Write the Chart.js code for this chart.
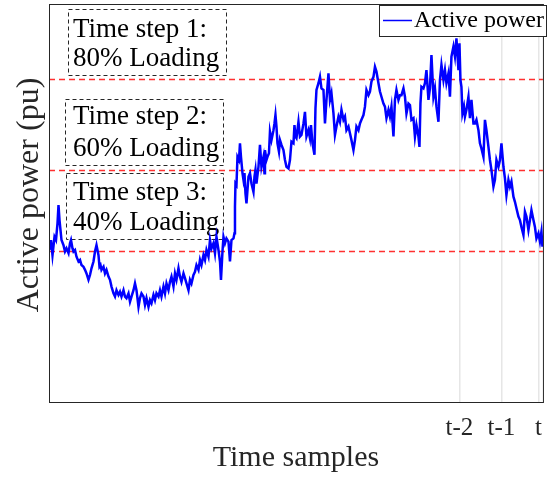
<!DOCTYPE html>
<html>
<head>
<meta charset="utf-8">
<script src="https://cdn.jsdelivr.net/npm/chart.js@4/dist/chart.umd.min.js"></script>
<style>
  html, body { margin: 0; padding: 0; background: #fff; }
  #wrap { width: 553px; height: 479px; }
</style>
</head>
<body>
<div id="wrap"><canvas id="chart" width="553" height="479"></canvas></div>
<script>
// Sample index of each measurement
const samples = [
  2,4,7,11,14,17,19,21,23,25,29,32,35,39,42,44,47,49,52,55,59,62,65,69,72,75,79,82,85,89,92,95,99,101,103,105,109,112,115,119,122,125,129,132,135,139,142,145,149,152,155,159,162,165,169,172,175,179,182,
  185,189,192,195,199,202,205,209,212,215,219,222,225,229,232,235,239,242,245,249,252,255,259,262,265,269,272,275,279,282,285,289,292,295,299,302,305,309,312,315,319,322,325,329,332,335,339,342,344,347,349,352,355,359,362,365,369,
  371,372,373,375,377,380,382,384,387,389,391,393,395,399,402,405,409,411,413,415,419,422,425,429,431,432,435,437,440,442,445,449,451,453,455,457,460,462,465,469,472,475,479,482,485,489,491,493,495,499,502,505,509,512,515,519,522,524,527,531,533,535,539,542,
  545,549,552,555,559,562,565,569,572,575,579,582,585,589,592,595,599,602,605,609,612,615,619,622,625,629,632,635,639,642,645,649,652,655,659,662,665,669,672,675,679,682,685,689,692,695,699,702,
  705,709,712,715,719,722,725,729,732,735,739,741,743,745,749,752,755,759,762,765,769,772,775,779,782,785,789,792,795,799,802,805,809,812,815,819,821,823,825,827,830,832,835,839,842,845,849,
  852,855,859,862,865,869,872,875,879,882,885,889,892,895,899,902,905,909,912,915,919,922,925,929,932,935,939,942,945,949,952,955,959,962,965,969,972,975,979,982,985,987
];

// Active power at each sample (pu)
const power = [
  0.382,0.407,0.369,0.415,0.407,0.449,0.495,0.457,0.432,0.407,0.394,0.378,0.386,0.374,0.399,0.407,0.386,0.378,0.382,0.365,0.353,0.357,0.344,0.340,0.332,0.323,0.307,0.319,0.336,0.353,0.378,0.394,0.369,0.340,0.344,0.332,0.340,0.323,0.332,0.315,0.307,0.290,0.273,0.265,0.281,0.269,0.277,0.265,0.281,0.265,0.261,0.273,0.252,0.265,0.281,0.298,0.281,0.239,0.261,
  0.273,0.265,0.244,0.261,0.239,0.256,0.248,0.269,0.256,0.273,0.265,0.281,0.265,0.290,0.273,0.298,0.281,0.302,0.315,0.290,0.323,0.307,0.336,0.315,0.302,0.323,0.311,0.298,0.281,0.307,0.298,0.319,0.327,0.344,0.332,0.357,0.344,0.369,0.357,0.382,0.365,0.407,0.386,0.399,0.374,0.415,0.382,0.353,0.307,0.378,0.415,0.399,0.411,0.403,0.353,0.407,0.411,
  0.424,0.491,0.549,0.545,0.616,0.608,0.650,0.616,0.575,0.558,0.575,0.524,0.499,0.566,0.575,0.549,0.528,0.566,0.583,0.549,0.591,0.646,0.591,0.616,0.575,0.633,0.608,0.616,0.625,0.679,0.658,0.683,0.700,0.721,0.692,0.650,0.629,0.658,0.646,0.633,0.608,0.591,0.587,0.608,0.654,0.650,0.696,0.667,0.663,0.704,0.667,0.671,0.700,0.729,0.667,0.683,0.663,0.696,0.650,0.621,0.738,0.784,0.801,0.817,
  0.788,0.784,0.700,0.759,0.826,0.759,0.776,0.725,0.671,0.692,0.717,0.704,0.734,0.709,0.717,0.683,0.692,0.675,0.658,0.633,0.658,0.692,0.683,0.700,0.709,0.721,0.742,0.784,0.771,0.780,0.805,0.817,0.842,0.830,0.801,0.780,0.767,0.750,0.742,0.713,0.734,0.717,0.742,0.667,0.759,0.784,0.759,0.771,
  0.771,0.788,0.767,0.725,0.750,0.746,0.709,0.713,0.667,0.696,0.667,0.641,0.750,0.792,0.788,0.801,0.834,0.759,0.788,0.872,0.767,0.788,0.742,0.704,0.809,0.847,0.809,0.834,0.801,0.826,0.767,0.868,0.893,0.868,0.914,0.834,0.901,0.809,0.792,0.725,0.742,0.717,0.734,0.767,0.713,0.759,0.700,
  0.700,0.709,0.683,0.650,0.637,0.616,0.709,0.683,0.641,0.608,0.583,0.541,0.558,0.608,0.591,0.608,0.650,0.591,0.562,0.520,0.558,0.541,0.554,0.516,0.503,0.487,0.466,0.457,0.440,0.420,0.478,0.466,0.432,0.457,0.482,0.457,0.440,0.411,0.424,0.403,0.428,0.390
];

// Labelled time steps on the horizontal axis
const tickSamples = [821, 905, 979];
const tickLabels = ['t-2', 't-1', 't'];

// Loading thresholds (pu) and their notes
const loadingLevels = [0.812, 0.583, 0.379];
const stepNotes = [
  ['Time step 1:', '80% Loading'],
  ['Time step 2:', '60% Loading'],
  ['Time step 3:', '40% Loading']
];

const yTitle = 'Active power (pu)';
const xTitle = 'Time samples';

const SERIF = '"Liberation Serif", "Times New Roman", serif';
const INK = '#262626';

// Dashed note boxes: [left, top, right, bottom, text x, baseline 1, baseline 2]
const noteBoxes = [
  [68, 9, 226, 75, 73, 37, 66],
  [65, 99, 223, 165, 73, 124, 156],
  [66, 173, 223, 239, 73, 200, 230]
];

const decorations = {
  id: 'decorations',
  beforeDatasetsDraw(chart) {
    const { ctx, chartArea: a, scales: { y } } = chart;
    ctx.save();
    // threshold lines
    ctx.strokeStyle = 'rgba(255,25,25,0.9)';
    ctx.lineWidth = 1.4;
    ctx.setLineDash([6, 4]);
    loadingLevels.forEach(v => {
      const py = Math.round(y.getPixelForValue(v)) + 0.5;
      ctx.beginPath();
      ctx.moveTo(a.left, py);
      ctx.lineTo(a.right, py);
      ctx.stroke();
    });
    // note boxes
    ctx.strokeStyle = INK;
    ctx.lineWidth = 1;
    ctx.setLineDash([4, 3]);
    ctx.fillStyle = '#000';
    ctx.font = '27px ' + SERIF;
    ctx.textBaseline = 'alphabetic';
    ctx.textAlign = 'left';
    noteBoxes.forEach((b, i) => {
      ctx.strokeRect(b[0] + 0.5, b[1] + 0.5, b[2] - b[0], b[3] - b[1]);
      ctx.fillText(stepNotes[i][0], b[4], b[5]);
      ctx.fillText(stepNotes[i][1], b[4], b[6]);
    });
    ctx.restore();
  },
  afterDraw(chart) {
    const { ctx, chartArea: a } = chart;
    ctx.save();
    // axes box
    ctx.strokeStyle = INK;
    ctx.lineWidth = 1;
    ctx.setLineDash([]);
    ctx.strokeRect(a.left + 0.5, a.top + 0.5, a.right - a.left, a.bottom - a.top);
    // vertical axis title
    ctx.save();
    ctx.translate(29.5, 195);
    ctx.rotate(-Math.PI / 2);
    ctx.fillStyle = INK;
    ctx.font = '32px ' + SERIF;
    ctx.textAlign = 'center';
    ctx.textBaseline = 'middle';
    ctx.fillText(yTitle, 0, 0);
    ctx.restore();
    // legend
    const ds = chart.data.datasets[0];
    ctx.fillStyle = '#fff';
    ctx.fillRect(379, 5, 167, 31);
    ctx.strokeStyle = INK;
    ctx.strokeRect(379.5, 5.5, 167, 31);
    ctx.strokeStyle = ds.borderColor;
    ctx.lineWidth = 1.5;
    ctx.beginPath();
    ctx.moveTo(383, 20.5);
    ctx.lineTo(412, 20.5);
    ctx.stroke();
    ctx.fillStyle = '#000';
    ctx.font = '24px ' + SERIF;
    ctx.textBaseline = 'middle';
    ctx.textAlign = 'left';
    ctx.fillText(ds.label, 414, 21);
    ctx.restore();
  }
};

new Chart(document.getElementById('chart'), {
  type: 'line',
  data: {
    datasets: [{
      label: 'Active power',
      data: samples.map((s, i) => ({ x: s, y: power[i] })),
      borderColor: '#0000ff',
      borderWidth: 2.5,
      pointRadius: 0,
      tension: 0,
      fill: false
    }]
  },
  options: {
    responsive: false,
    animation: false,
    devicePixelRatio: 1,
    layout: { padding: { top: 4, right: 10, left: 49, bottom: 0 } },
    plugins: { legend: { display: false }, tooltip: { enabled: false } },
    scales: {
      x: {
        type: 'linear',
        min: 0,
        max: 988,
        afterBuildTicks: s => { s.ticks = tickSamples.map(v => ({ value: v })); },
        afterFit: s => { s.height = 77; },
        ticks: {
          callback: (v, i) => tickLabels[i],
          font: { family: SERIF, size: 25 },
          color: INK,
          padding: 11,
          maxRotation: 0,
          autoSkip: false
        },
        grid: { color: '#e6e6e6', lineWidth: 1.5, drawTicks: false },
        border: { display: false },
        title: {
          display: true,
          text: xTitle,
          font: { family: SERIF, size: 30 },
          color: INK,
          padding: { top: 0, bottom: 3 }
        }
      },
      y: {
        display: false,
        min: 0,
        max: 1
      }
    }
  },
  plugins: [decorations]
});
</script>
</body>
</html>
